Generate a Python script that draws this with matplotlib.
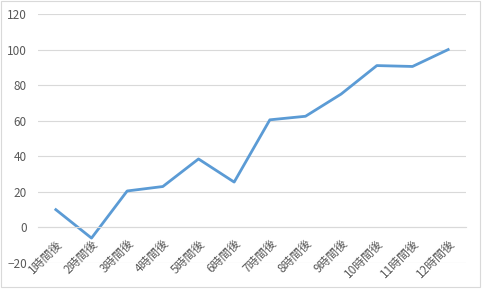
import matplotlib
matplotlib.use('Agg')
import matplotlib.pyplot as plt
from matplotlib.patches import Rectangle

plt.rcParams['font.family'] = ['Noto Sans CJK JP', 'DejaVu Sans']

# data
categories = ['1時間後', '2時間後', '3時間後', '4時間後', '5時間後', '6時間後',
              '7時間後', '8時間後', '9時間後', '10時間後', '11時間後', '12時間後']
values = [10, -6, 20.5, 23, 38.5, 25.5, 60.5, 62.5, 75, 91, 90.5, 100]
y_ticks = [-20, 0, 20, 40, 60, 80, 100, 120]

line_color = '#5B9BD5'
grid_color = '#D9D9D9'
text_color = '#595959'

W, H = 488, 296
fig = plt.figure(figsize=(W / 100, H / 100), dpi=100)
ax = fig.add_axes([38 / W, 1 - 263 / H, (466 - 38) / W, (263 - 14) / H])

x = list(range(len(categories)))
ax.plot(x, values, color=line_color, linewidth=2.0, solid_joinstyle='round')

ax.set_xlim(-0.5, len(categories) - 0.5)
ax.set_ylim(-20, 120)
ax.set_yticks(y_ticks)
ax.yaxis.grid(True, color=grid_color, linewidth=0.8)
ax.set_axisbelow(True)

for side in ['top', 'right', 'left']:
    ax.spines[side].set_visible(False)
ax.spines['bottom'].set_position(('data', 0))
ax.spines['bottom'].set_color(grid_color)
ax.spines['bottom'].set_linewidth(0.8)

ax.set_xticks(x)
ax.set_xticklabels(categories, rotation=45, ha='right', va='top',
                   rotation_mode='anchor')
ax.tick_params(axis='x', length=0, pad=7, labelsize=8.5, labelcolor=text_color)
ax.tick_params(axis='y', length=0, pad=8, labelsize=8.5, labelcolor=text_color)

# chart border
fig.patches.append(Rectangle((0.5 / W, 1 - 287 / H), 479.5 / W, 286.5 / H,
                             transform=fig.transFigure, fill=False,
                             edgecolor=grid_color, linewidth=0.8))

fig.savefig('out.png', dpi=100, facecolor='white')
